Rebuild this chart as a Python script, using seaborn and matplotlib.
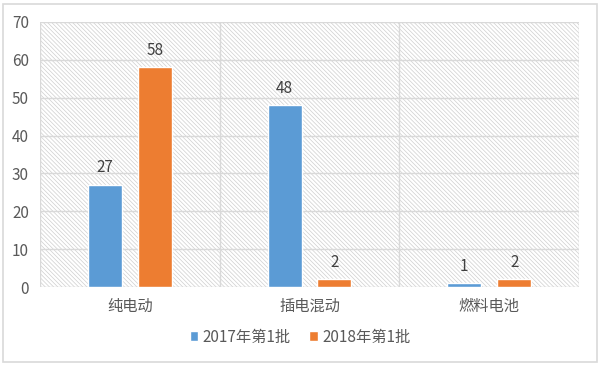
import matplotlib
matplotlib.use("Agg")
import matplotlib.pyplot as plt
import seaborn as sns
import pandas as pd
from matplotlib.patches import Rectangle

categories = ["纯电动", "插电混动", "燃料电池"]
series_names = ["2017年第1批", "2018年第1批"]
values_2017 = [27, 48, 1]
values_2018 = [58, 2, 2]
colors = ["#5B9BD5", "#ED7D31"]
yticks = [0, 10, 20, 30, 40, 50, 60, 70]

df = pd.DataFrame({
    "cat": categories * 2,
    "series": [series_names[0]] * 3 + [series_names[1]] * 3,
    "val": values_2017 + values_2018,
})

sns.set_theme(style="white")
plt.rcParams["font.family"] = ["Noto Sans CJK SC", "DejaVu Sans"]
plt.rcParams["hatch.color"] = "#cfcfcf"
plt.rcParams["hatch.linewidth"] = 0.5

fig = plt.figure(figsize=(6, 3.65), dpi=100)
fig.patches.append(Rectangle((3 / 600, 3 / 365), 594 / 600, 358 / 365,
                             transform=fig.transFigure, fill=False,
                             edgecolor="#d9d9d9", linewidth=1.2))
ax = fig.add_axes([40 / 600, 1 - 287 / 365, 539 / 600, 265 / 365])
ax.patch.set_facecolor("white")
ax.patch.set_hatch("\\" * 8)
ax.patch.set_edgecolor("#cfcfcf")

sns.barplot(data=df, x="cat", y="val", hue="series", order=categories,
            hue_order=series_names, palette=colors, width=0.556, gap=0.32,
            saturation=1, ax=ax, legend=True, zorder=3)

ax.set_ylim(0, 70)
ax.set_xlim(-0.5, 2.5)
ax.set_yticks(yticks)
ax.set_yticklabels([str(t) for t in yticks])
for y in yticks:
    ax.axhline(y, color="#d9d9d9", linewidth=1, zorder=1)
for x in [-0.5, 0.5, 1.5, 2.5]:
    ax.axvline(x, color="#d9d9d9", linewidth=1, zorder=1)
for s in ax.spines.values():
    s.set_visible(False)
ax.tick_params(axis="both", length=0, labelsize=11, colors="#595959")
ax.tick_params(axis="x", pad=8)
ax.tick_params(axis="y", pad=8)
ax.set_xlabel("")
ax.set_ylabel("")

for cont in ax.containers:
    ax.bar_label(cont, padding=6, fontsize=11, color="#404040")

handles, labels = ax.get_legend_handles_labels()
ax.legend_.remove()
fig.legend(handles, labels, loc="center", bbox_to_anchor=(0.5, 1 - 337 / 365),
           ncol=2, frameon=False, fontsize=11, handlelength=0.55,
           handleheight=0.55, handletextpad=0.3, columnspacing=1.2,
           labelcolor="#595959")

fig.savefig("out.png", dpi=100)
